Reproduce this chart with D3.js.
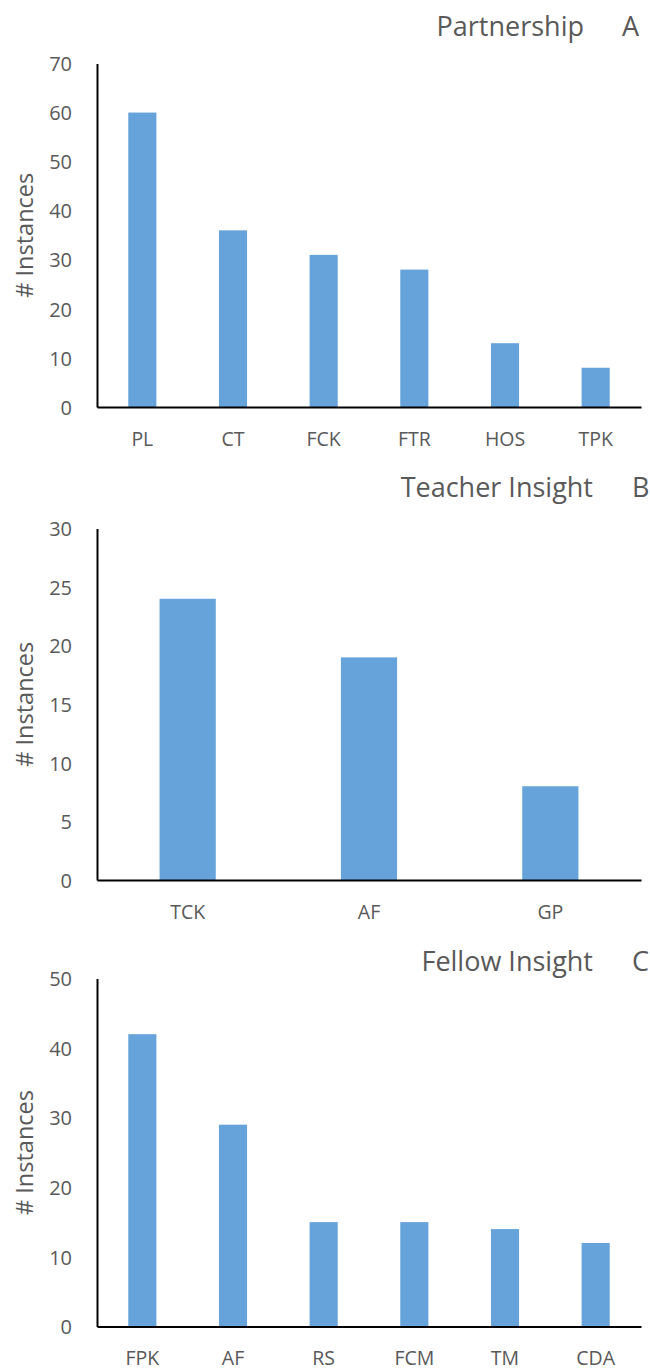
<!DOCTYPE html>
<html><head><meta charset="utf-8">
<script src="https://cdn.jsdelivr.net/npm/d3@7"></script>
<style>body{margin:0;background:#fff}svg{display:block}</style>
</head><body>
<script>
const catsA = ["PL","CT","FCK","FTR","HOS","TPK"];
const valsA = [60,36,31,28,13,8];
const ticksA = [0,10,20,30,40,50,60,70];
const catsB = ["TCK","AF","GP"];
const valsB = [24,19,8];
const ticksB = [0,5,10,15,20,25,30];
const catsC = ["FPK","AF","RS","FCM","TM","CDA"];
const valsC = [42,29,15,15,14,12];
const ticksC = [0,10,20,30,40,50];
const titles = ["Partnership", "Teacher Insight", "Fellow Insight"];
const letters = ["A","B","C"];

const W = 650, H = 1370;
const FONT = "'Open Sans', sans-serif";
const svg = d3.select("body").append("svg").attr("width", W).attr("height", H);

const panels = [
  {cats: catsA, vals: valsA, ticks: ticksA, top: 63.5, bottom: 407, titleY: 36, titleEnd: 584, letterX: 622},
  {cats: catsB, vals: valsB, ticks: ticksB, top: 528.5, bottom: 880, titleY: 497.3, titleEnd: 593, letterX: 632},
  {cats: catsC, vals: valsC, ticks: ticksC, top: 978.5, bottom: 1326.5, titleY: 970.7, titleEnd: 593, letterX: 632}
];
const x0 = 97, x1 = 641;

panels.forEach((p, i) => {
  const g = svg.append("g");
  const x = d3.scaleBand().domain(p.cats).range([x0, x1]).paddingInner(0.69).paddingOuter(0.345);
  const y = d3.scaleLinear().domain([0, d3.max(p.ticks)]).range([p.bottom, p.top]);

  g.selectAll("rect").data(p.cats).join("rect")
    .attr("x", d => x(d))
    .attr("y", (d, j) => y(p.vals[j]))
    .attr("width", x.bandwidth())
    .attr("height", (d, j) => y(0) - y(p.vals[j]))
    .attr("fill", "#66a3da");

  const ya = g.append("g").attr("transform", `translate(${x0},0)`)
    .call(d3.axisLeft(y).tickValues(p.ticks).tickSize(0).tickPadding(25).tickFormat(d3.format("d")));
  ya.select(".domain").attr("stroke", "#000").attr("stroke-width", 2);
  ya.selectAll("text").attr("font-family", FONT).attr("font-size", 20).attr("fill", "#595959").attr("dy", "0.36em");

  const xa = g.append("g").attr("transform", `translate(0,${p.bottom})`)
    .call(d3.axisBottom(x).tickSize(0).tickPadding(0).tickSizeOuter(0));
  xa.select(".domain").attr("stroke", "#000").attr("stroke-width", 2);
  xa.selectAll("text").attr("font-family", FONT).attr("font-size", 19.5).attr("fill", "#595959")
    .attr("y", 38.7).attr("dy", 0);

  g.append("text")
    .attr("transform", `translate(33,${(p.top + p.bottom) / 2}) rotate(-90)`)
    .attr("text-anchor", "middle")
    .attr("font-family", FONT).attr("font-size", 23.5).attr("fill", "#595959")
    .text("# Instances");

  g.append("text").attr("x", p.titleEnd).attr("y", p.titleY).attr("text-anchor", "end")
    .attr("font-family", FONT).attr("font-size", 27).attr("fill", "#595959")
    .text(titles[i]);
  g.append("text").attr("x", p.letterX).attr("y", p.titleY).attr("text-anchor", "start")
    .attr("font-family", FONT).attr("font-size", 27).attr("fill", "#595959")
    .text(letters[i]);
});
</script>
</body></html>
